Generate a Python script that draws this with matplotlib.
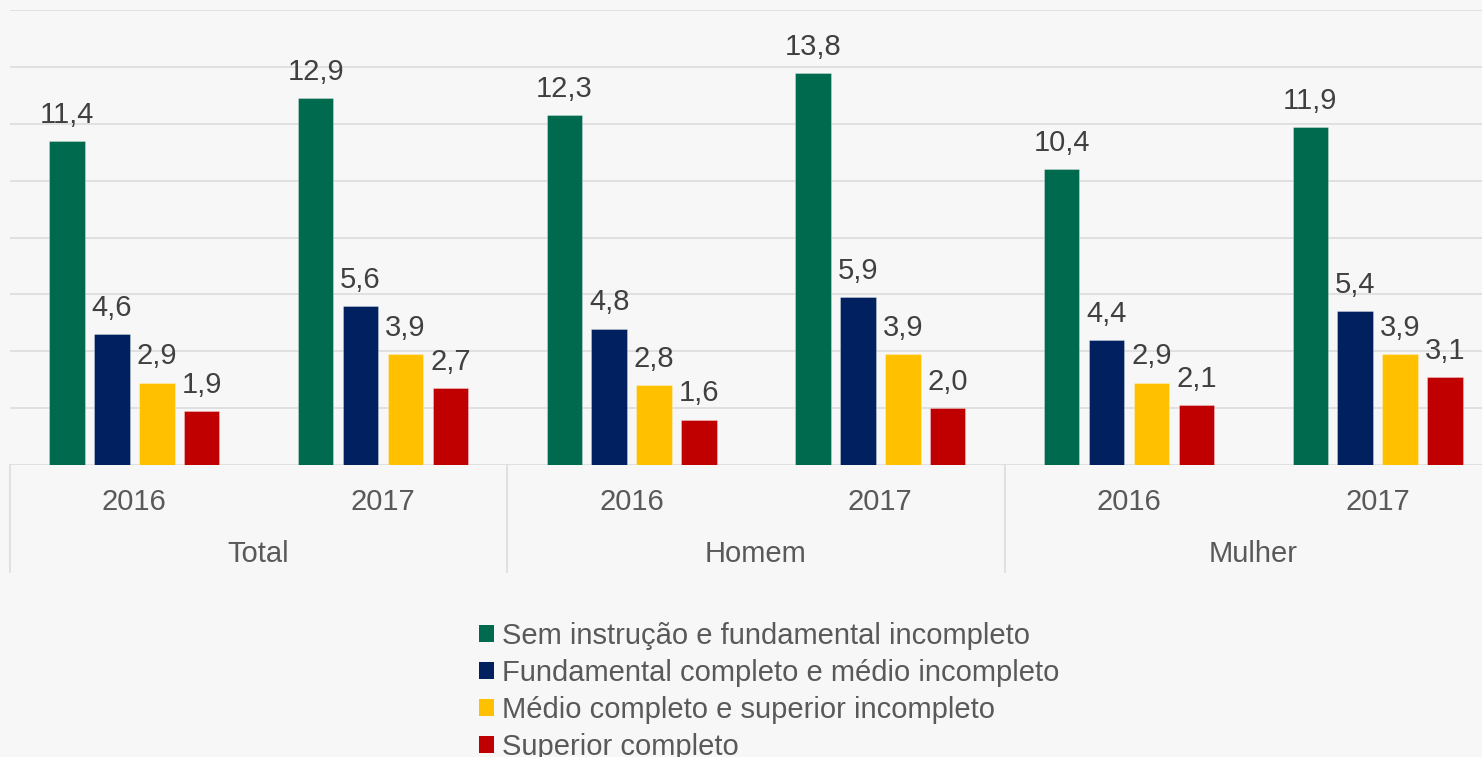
import matplotlib
matplotlib.use("Agg")
import matplotlib.pyplot as plt
from matplotlib.patches import Patch
import matplotlib.transforms as mtransforms

plt.rcParams['font.family'] = ['Liberation Sans', 'DejaVu Sans']

groups = ["Total", "Homem", "Mulher"]
years = ["2016", "2017"]
series = [
    "Sem instrução e fundamental incompleto",
    "Fundamental completo e médio incompleto",
    "Médio completo e superior incompleto",
    "Superior completo",
]
colors = ["#006a4e", "#002060", "#ffc000", "#c00000"]
# values per series, categories ordered: Total 2016, Total 2017, Homem 2016, Homem 2017, Mulher 2016, Mulher 2017
sem_instrucao = [11.4, 12.9, 12.3, 13.8, 10.4, 11.9]
fundamental = [4.6, 5.6, 4.8, 5.9, 4.4, 5.4]
medio = [2.9, 3.9, 2.8, 3.9, 2.9, 3.9]
superior = [1.9, 2.7, 1.6, 2.0, 2.1, 3.1]
values = [sem_instrucao, fundamental, medio, superior]

W, H = 1482, 757
bg = "#f7f7f7"
FS = 21
fig = plt.figure(figsize=(W / 100, H / 100), dpi=100, facecolor=bg)
ax = fig.add_axes([10 / W, (H - 465) / H, 1492 / W, 455 / H])
ax.set_facecolor(bg)

ncat = len(groups) * len(years)
step = 0.1807
width = 0.1426
for j, (vals, col, name) in enumerate(zip(values, colors, series)):
    xs = [i + 0.5 + (j - 1.5) * step for i in range(ncat)]
    ax.bar(xs, vals, width=width, color=col, label=name, zorder=3,
           edgecolor=(1, 1, 1, 0.35), linewidth=0.6)
    for x, v in zip(xs, vals):
        ax.annotate(f"{v:.1f}".replace(".", ","), (x, v), xytext=(0, 13),
                    textcoords="offset points", ha="center", va="baseline",
                    fontsize=FS, color="#404040", zorder=4)

ax.set_xlim(0, ncat)
ax.set_ylim(0, 16)
ax.set_yticks(range(0, 17, 2))
ax.yaxis.grid(True, color="#d9d9d9", linewidth=1.1, zorder=0)
ax.set_axisbelow(True)
for s in ax.spines.values():
    s.set_visible(False)
ax.tick_params(left=False, labelleft=False, bottom=False, labelbottom=False)

trans = mtransforms.blended_transform_factory(ax.transData, ax.transAxes)
sep_bottom = -107 / 455
for g in range(len(groups) + 1):
    ax.plot([g * 2, g * 2], [0, sep_bottom], transform=trans, color="#d9d9d9",
            linewidth=1.1, clip_on=False, zorder=1)
for i in range(ncat):
    ax.text(i + 0.5, -37 / 455, years[i % 2], transform=trans, ha="center",
            va="center", fontsize=FS, color="#595959")
for g, name in enumerate(groups):
    ax.text(g * 2 + 1, -89 / 455, name, transform=trans, ha="center",
            va="center", fontsize=FS, color="#595959")

handles = [Patch(facecolor=c, edgecolor="none") for c in colors]
leg = fig.legend(handles, series, loc="upper left",
                 bbox_to_anchor=(479 / W, 1 - 622 / H), frameon=False,
                 fontsize=FS, handlelength=0.52, handleheight=0.52,
                 handletextpad=0.26, labelspacing=0.31, borderpad=0,
                 borderaxespad=0, labelcolor="#595959")

fig.savefig("out.png", dpi=100, facecolor=bg)
